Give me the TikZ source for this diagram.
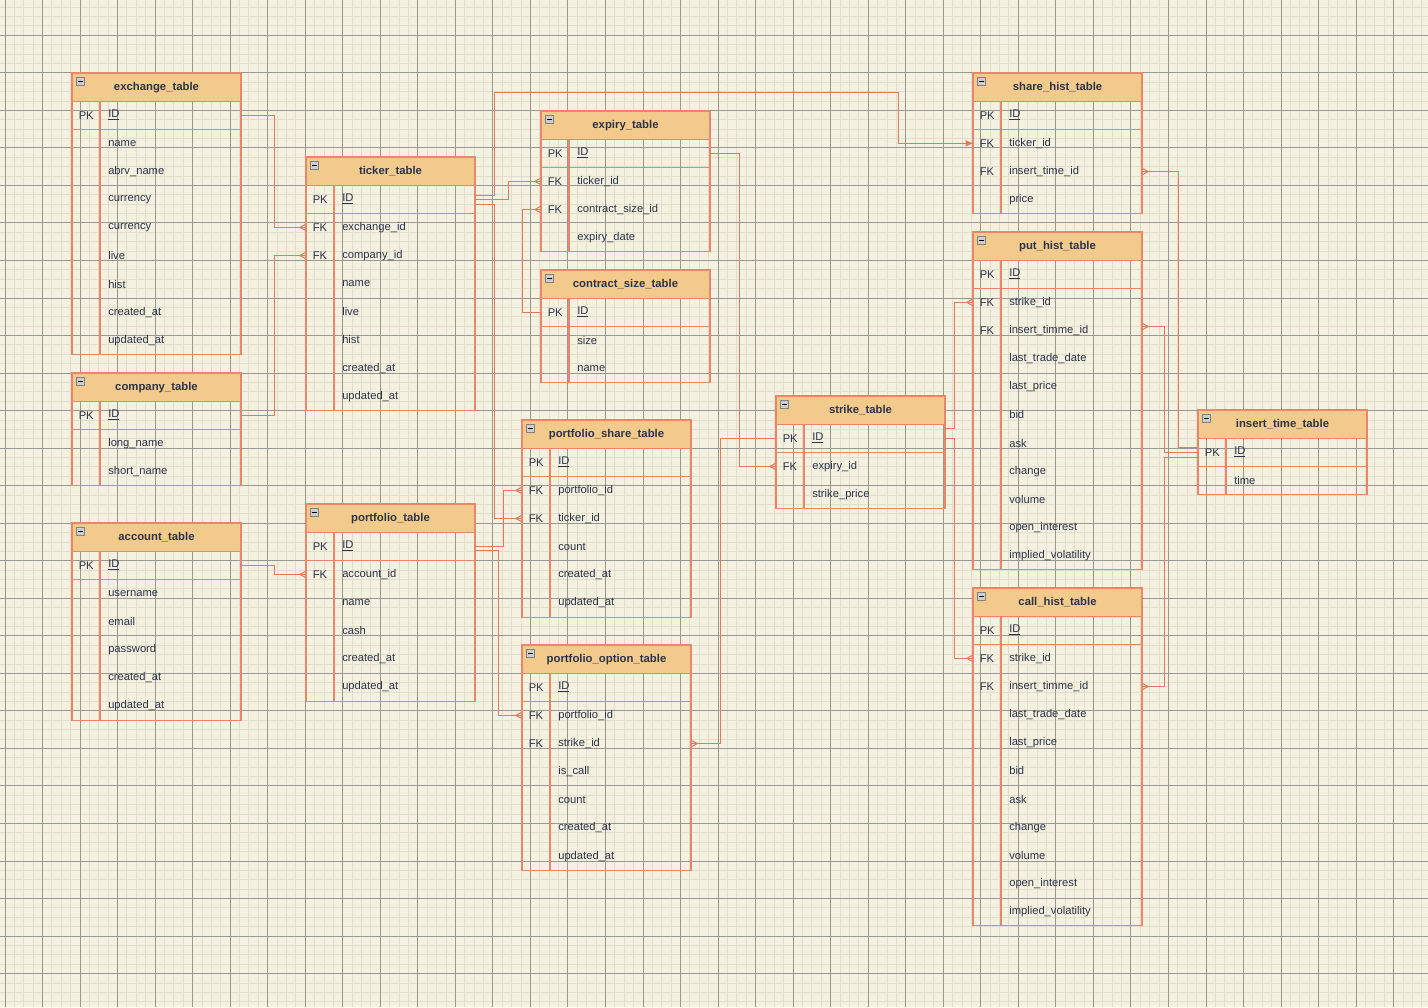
\documentclass[tikz,border=0pt]{standalone}
\usepackage{fontspec}
\setmainfont{Liberation Sans}
\usetikzlibrary{arrows.meta}
\definecolor{bg}{RGB}{244,241,224}
\definecolor{gmin}{RGB}{224,222,204}
\definecolor{gmaj}{RGB}{152,152,146}
\definecolor{hdr}{RGB}{242,203,140}
\definecolor{bord}{RGB}{234,134,106}
\definecolor{conn}{RGB}{230,120,92}
\definecolor{txt}{RGB}{45,52,72}
\tikzset{
  tblborder/.style={draw=bord,line width=0.8pt},
  rowbox/.style={draw=none,inner sep=0pt,minimum width=126.75pt,minimum height=21.1pt},
  keytext/.style={anchor=west,inner sep=0pt,text=txt,font=\fontsize{8.4pt}{10pt}\selectfont},
  fieldtext/.style={anchor=west,inner sep=0pt,text=txt,font=\fontsize{8.4pt}{10pt}\selectfont},
  titletext/.style={inner sep=0pt,text=txt,font=\fontsize{8.5pt}{10pt}\selectfont\bfseries},
  minusicon/.style={draw={rgb,255:red,130;green,130;blue,130},fill={rgb,255:red,205;green,205;blue,205},minimum size=6pt,inner sep=0pt},
  minusdash/.style={draw=black,line width=0.8pt},
  rel/.style={draw=conn,line width=0.75pt},
}
\newcommand{\ertable}[5]{%
 \begin{scope}[shift={(#2,#3)}]
  \fill[hdr] (0,0) rectangle (169,28.15);
  \draw[tblborder] (0,0) rectangle (169,28.15);
  \node[titletext] (#1-title) at (84.5,14.5) {#4};
  \node[minusicon] (#1-icon) at (8.5,8.5) {};
  \draw[minusdash] (6.4,8.5) -- (10.6,8.5);
  \foreach \k/\f [count=\n from 0] in {#5} {
    \node[rowbox] (#1-r\n) at (84.5,{28.15*(\n+1.5)}) {};
    \node[keytext] (#1-k\n) at (6.5,{28.15*(\n+1.5)}) {\k};
    \node[fieldtext] (#1-f\n) at (36,{28.15*(\n+1.5)}) {\f};
    \xdef\nrows{\n}
  }
  \pgfmathsetmacro\tbot{28.15*(\nrows+2)}
  \draw[tblborder] (0,28.15) rectangle (169,\tbot);
  \draw[tblborder] (0,56.3) -- (169,56.3);
  \draw[tblborder] (28,28.15) -- (28,\tbot);
 \end{scope}
}
\newcommand\crowW[1]{\draw[rel] ([xshift=-4.5pt]#1) -- ([yshift=2.4pt]#1) ([xshift=-4.5pt]#1) -- ([yshift=-2.4pt]#1);}
\newcommand\crowE[1]{\draw[rel] ([xshift=4.5pt]#1) -- ([yshift=2.4pt]#1) ([xshift=4.5pt]#1) -- ([yshift=-2.4pt]#1);}
\begin{document}
\begin{tikzpicture}[x=0.75pt,y=-0.75pt]
\useasboundingbox (0,0) rectangle (1428,1007);
\fill[bg] (0,0) rectangle (1428,1007);
% grid
\foreach \i in {0,...,151} \draw[gmin,line width=0.75pt] ({5+\i*9.383},0) -- ({5+\i*9.383},1007);
\foreach \j in {1,...,107} \draw[gmin,line width=0.75pt] (0,{-2.2+\j*9.383}) -- (1428,{-2.2+\j*9.383});
\foreach \i in {0,...,37} \draw[gmaj,line width=0.75pt] ({5+\i*37.532},0) -- ({5+\i*37.532},1007);
\foreach \j in {1,...,26} \draw[gmaj,line width=0.75pt] (0,{-2.2+\j*37.532}) -- (1428,{-2.2+\j*37.532});

% tables
\ertable{exch}{72}{73}{exchange\_table}{PK/\underline{ID},/name,/abrv\_name,/currency,/currency,/live,/hist,/created\_at,/updated\_at}
\ertable{comp}{72}{373}{company\_table}{PK/\underline{ID},/long\_name,/short\_name}
\ertable{acct}{72}{523}{account\_table}{PK/\underline{ID},/username,/email,/password,/created\_at,/updated\_at}
\ertable{tick}{306}{157}{ticker\_table}{PK/\underline{ID},FK/exchange\_id,FK/company\_id,/name,/live,/hist,/created\_at,/updated\_at}
\ertable{port}{306}{504}{portfolio\_table}{PK/\underline{ID},FK/account\_id,/name,/cash,/created\_at,/updated\_at}
\ertable{exp}{541}{111}{expiry\_table}{PK/\underline{ID},FK/ticker\_id,FK/contract\_size\_id,/expiry\_date}
\ertable{csize}{541}{270}{contract\_size\_table}{PK/\underline{ID},/size,/name}
\ertable{pshare}{522}{420}{portfolio\_share\_table}{PK/\underline{ID},FK/portfolio\_id,FK/ticker\_id,/count,/created\_at,/updated\_at}
\ertable{popt}{522}{645}{portfolio\_option\_table}{PK/\underline{ID},FK/portfolio\_id,FK/strike\_id,/is\_call,/count,/created\_at,/updated\_at}
\ertable{strike}{776}{396}{strike\_table}{PK/\underline{ID},FK/expiry\_id,/strike\_price}
\ertable{share}{973}{73}{share\_hist\_table}{PK/\underline{ID},FK/ticker\_id,FK/insert\_time\_id,/price}
\ertable{put}{973}{232}{put\_hist\_table}{PK/\underline{ID},FK/strike\_id,FK/insert\_timme\_id,/last\_trade\_date,/last\_price,/bid,/ask,/change,/volume,/open\_interest,/implied\_volatility}
\ertable{call}{973}{588}{call\_hist\_table}{PK/\underline{ID},FK/strike\_id,FK/insert\_timme\_id,/last\_trade\_date,/last\_price,/bid,/ask,/change,/volume,/open\_interest,/implied\_volatility}
\ertable{ins}{1198}{410}{insert\_time\_table}{PK/\underline{ID},/time}

% connector end coordinates
\coordinate (tickA) at ([yshift=3pt]tick-r0.east);
\coordinate (tickC) at ([yshift=-3.6pt]tick-r0.east);
\coordinate (portB) at ([yshift=-3.5pt]port-r0.east);
\coordinate (strA) at ([yshift=7pt]strike-r0.east);
\coordinate (insA) at ([yshift=3.4pt]ins-r0.west);
\coordinate (insC) at ([yshift=-3.6pt]ins-r0.west);
\coordinate (putI) at ([yshift=3pt]put-r2.east);

% connectors
\draw[rel] (exch-r0.east) -- ++(33,0) |- (tick-r1.west); \crowW{tick-r1.west}
\draw[rel] (comp-r0.east) -- ++(33,0) |- (tick-r2.west); \crowW{tick-r2.west}
\draw[rel] (acct-r0.east) -- ++(33,0) |- (port-r1.west); \crowW{port-r1.west}
\draw[rel,-{Stealth[length=5.5pt,width=4.6pt,inset=0.6pt]}] (tickA) -- ++(19,0) |- (898,92) |- (share-r1.west);
\draw[rel] (tick-r0.east) -- ++(33,0) |- (exp-r1.west); \crowW{exp-r1.west}
\draw[rel] (tickC) -- ++(19,0) |- (pshare-r2.west); \crowW{pshare-r2.west}
\draw[rel] (exp-r0.east) -- ++(29,0) |- (strike-r1.west); \crowW{strike-r1.west}
\draw[rel] (csize-r0.west) -- ++(-18,0) |- (exp-r2.west); \crowW{exp-r2.west}
\draw[rel] (port-r0.east) -- ++(28,0) |- (pshare-r1.west); \crowW{pshare-r1.west}
\draw[rel] (portB) -- ++(23,0) |- (popt-r1.west); \crowW{popt-r1.west}
\draw[rel] (strike-r0.west) -- ++(-55,0) |- (popt-r2.east); \crowE{popt-r2.east}
\draw[rel] (strA) -- ++(9,0) |- (put-r1.west); \crowW{put-r1.west}
\draw[rel] (strike-r0.east) -- ++(9,0) |- (call-r1.west); \crowW{call-r1.west}
\draw[rel] (insA) -- ++(-19,0) |- (share-r2.east); \crowE{share-r2.east}
\draw[rel] (ins-r0.west) -- ++(-33,0) |- (putI); \crowE{putI}
\draw[rel] (insC) -- ++(-33,0) |- (call-r2.east); \crowE{call-r2.east}
\end{tikzpicture}
\end{document}
